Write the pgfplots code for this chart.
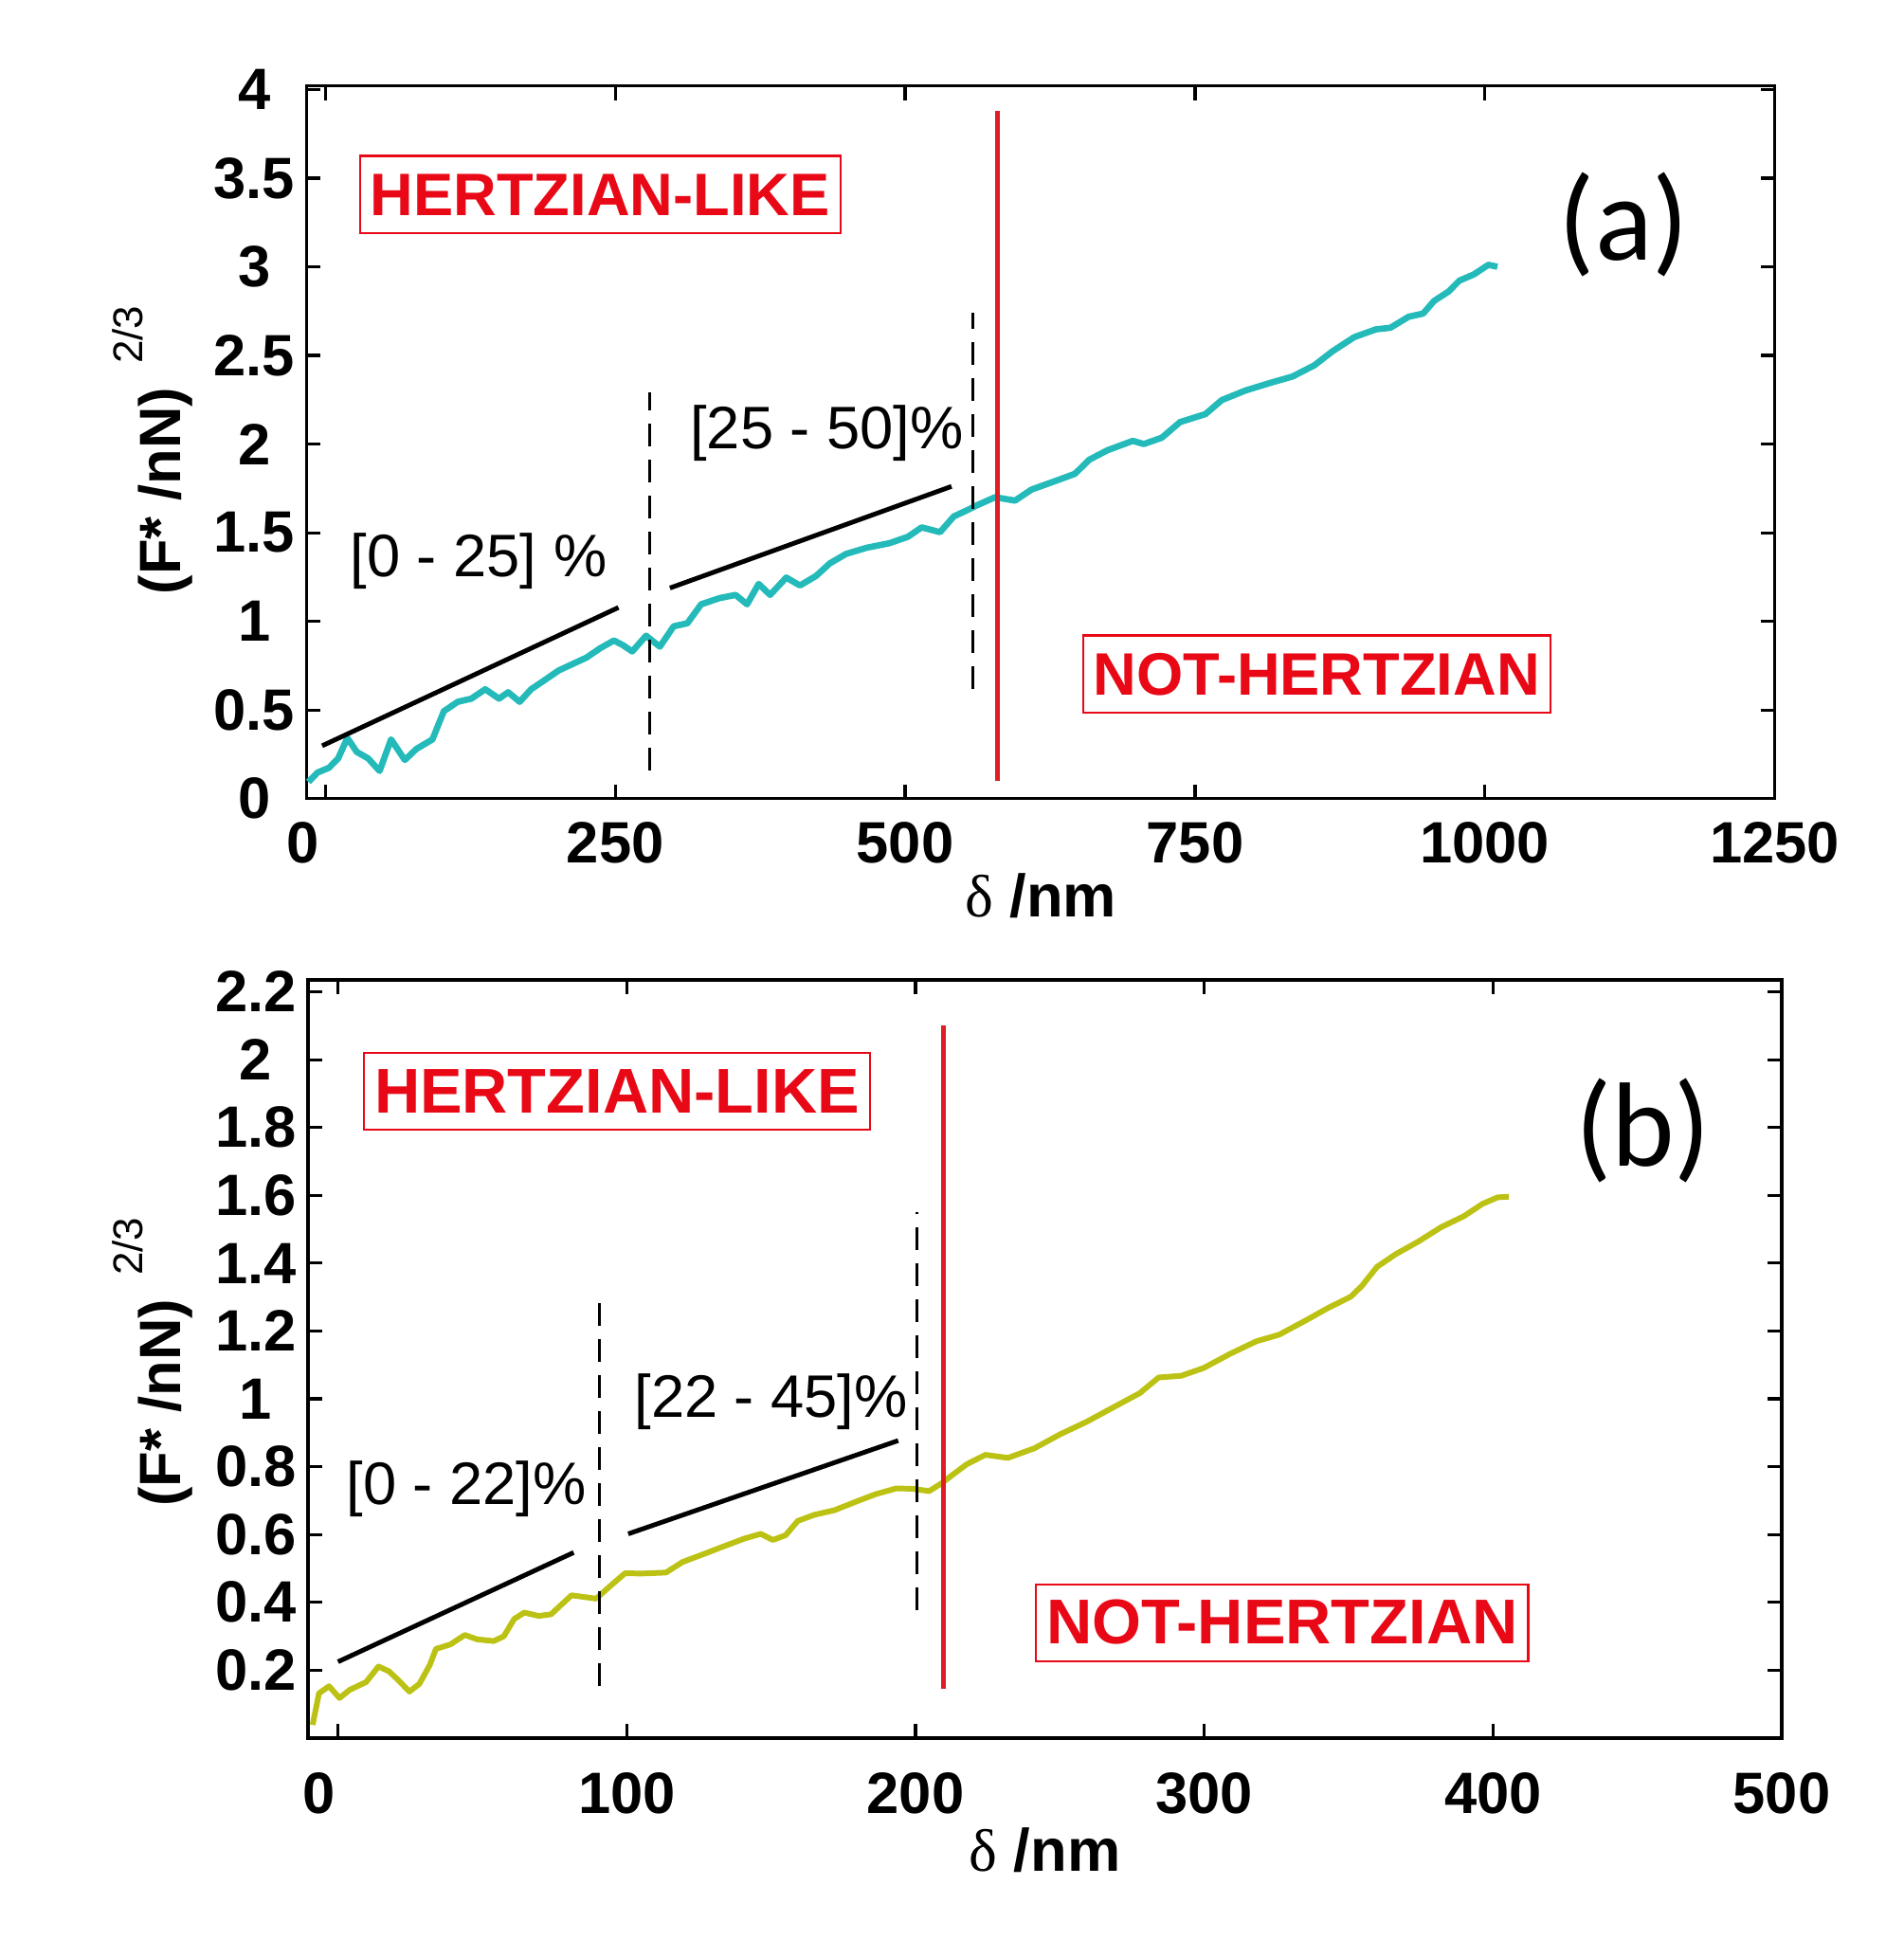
\documentclass[border=0pt]{standalone}
\usepackage{fontspec}
\setmainfont{Liberation Sans}
\newfontfamily\calibri{Carlito}
\newfontfamily\greekfont{Liberation Serif}
\usepackage{pgfplots}
\pgfplotsset{compat=1.18}
\definecolor{curveA}{RGB}{36,186,186}
\definecolor{curveB}{RGB}{188,194,20}
\definecolor{hred}{RGB}{232,8,22}
\definecolor{vred}{RGB}{222,30,36}
\newcommand{\shiftzero}[1]{\kern-#1\makebox[0pt]{0}\kern#1}
\tikzset{
  redbox/.style={draw=hred, line width=0.6pt, text=hred, font=\fontsize{18}{18}\selectfont\bfseries, inner xsep=1.1mm, inner ysep=1.8mm, text height=12.9pt, text depth=0pt},
  pct/.style={font=\fontsize{18}{18}\selectfont, text=black},
}
\pgfplotsset{
  common/.style={
    scale only axis,
    anchor=south west,
    axis line style={line width=1pt},
    tick align=inside,
    xtick pos=both, ytick pos=both,
    major tick length=1.5mm,
    every tick/.style={black, line width=0.9pt},
    scaled ticks=false,
    /pgf/number format/1000 sep={},
    /pgf/number format/assume math mode=true,
    ticklabel style={font=\fontsize{17.5}{17.5}\selectfont\bfseries, inner sep=0pt},
    xticklabel style={anchor=north},
    yticklabel style={anchor=center, xshift=-5.5mm},
    xlabel={{\greekfont δ} \textbf{/nm}},
    xlabel style={font=\fontsize{18}{18}\selectfont, anchor=base},
    ylabel={\textbf{(F* /nN)}\hspace{2.5mm}\raisebox{4mm}{\fontsize{12.5}{12.5}\selectfont 2/3}},
    ylabel style={font=\fontsize{17.5}{17.5}\selectfont, anchor=base},
    clip=false,
  },
}
\begin{document}
\begin{tikzpicture}
\path[use as bounding box] (0,0) rectangle (200.8mm,204.6mm);
% ---------------- (a)
\begin{axis}[common,
  at={(32.33mm,120.33mm)}, width=154.94mm, height=75.2mm,
  xmin=-16.3, xmax=1250, ymin=0, ymax=4.02,
  xtick={0,250,500,750,1000,1250},
  xticklabels={\shiftzero{2.4mm},250,500,750,1000,1250},
  ytick={0,0.5,1,1.5,2,2.5,3,3.5,4},
  yticklabels={0,0.5,1,1.5,2,2.5,3,3.5,4},
  xticklabel style={yshift=-2.4mm},
  xlabel style={at={(axis description cs:0.5,-0.1666)}},
  ylabel style={at={(axis description cs:-0.086,0.489)}},
]
\addplot[curveA, line width=1.9pt, line join=round] coordinates {
(-14.6,0.094) (-6.7,0.147) (3.2,0.174) (11.1,0.227) (19.0,0.342) (27.2,0.263) (36.9,0.227) (46.8,0.156) (56.7,0.334) (68.6,0.218)
(78.5,0.280) (92.4,0.334) (102.2,0.493) (114.2,0.546) (126.0,0.564) (137.9,0.617) (149.8,0.564) (157.7,0.600) (167.6,0.546) (177.5,0.617)
(189.5,0.670) (201.3,0.723) (213.2,0.759) (225.1,0.795) (237.0,0.848) (248.9,0.892) (256.8,0.865) (264.7,0.830) (276.6,0.919) (288.5,0.857)
(300.4,0.972) (312.2,0.989) (324.1,1.096) (340.0,1.131) (353.8,1.149) (363.7,1.096) (373.7,1.211) (383.6,1.149) (397.5,1.247) (409.3,1.202)
(423.2,1.256) (435.1,1.327) (449.0,1.380) (466.8,1.415) (486.6,1.441) (502.4,1.477) (514.3,1.530) (530.1,1.503) (542.0,1.592) (553.9,1.628)
(561.8,1.654) (577.6,1.700) (594.8,1.681) (608.9,1.743) (627.6,1.787) (646.4,1.832) (658.9,1.912) (674.5,1.965) (696.4,2.018) (705.8,2.000)
(721.4,2.036) (737.1,2.124) (759.0,2.169) (773.1,2.248) (793.5,2.302) (815.4,2.346) (834.1,2.381) (852.9,2.444) (868.5,2.523) (887.3,2.603)
(906.0,2.647) (918.5,2.656) (934.2,2.718) (946.7,2.736) (956.1,2.807) (968.6,2.860) (978.0,2.922) (990.5,2.957) (1003.0,3.011) (1010.8,3.000)};
\addplot[black, line width=1.4pt] coordinates {(-2.7,0.298) (252.8,1.078)};
\addplot[black, line width=1.4pt] coordinates {(297.2,1.188) (540,1.761)};
\addplot[black, line width=0.85pt, dash pattern=on 2.4mm off 1.4mm] coordinates {(279.7,0.16) (279.7,2.29)};
\addplot[black, line width=0.85pt, dash pattern=on 2.4mm off 1.4mm] coordinates {(558.6,0.62) (558.6,2.74)};
\addplot[vred, line width=1.2pt] coordinates {(579.6,0.10) (579.6,3.88)};
\node[redbox] at (axis cs:237,3.408) {HERTZIAN-LIKE};
\node[redbox] at (axis cs:855,0.703) {NOT-HERTZIAN};
\node[pct] at (axis cs:132.2,1.339) {[0 - 25] \%};
\node[pct] at (axis cs:432.5,2.06) {[25 - 50]\%};
\node[font=\calibri\fontsize{36}{36}\selectfont] at (axis cs:1120,3.24) {(a)};
\end{axis}
% ---------------- (b)
\begin{axis}[common,
  at={(32.5mm,21.2mm)}, width=155.5mm, height=80mm,
  xmin=-10.4, xmax=500, ymin=0, ymax=2.235,
  xtick={0,100,200,300,400,500},
  xticklabels={\shiftzero{2mm},100,200,300,400,500},
  ytick={0.2,0.4,0.6,0.8,1,1.2,1.4,1.6,1.8,2,2.2},
  yticklabels={0.2,0.4,0.6,0.8,1,1.2,1.4,1.6,1.8,2,2.2},
  xticklabel style={yshift=-3.6mm},
  xlabel style={at={(axis description cs:0.5,-0.176)}},
  ylabel style={at={(axis description cs:-0.0868,0.496)}},
]
\addplot[curveB, line width=1.7pt, line join=round] coordinates {
(-8.8,0.039) (-6.6,0.132) (-3.1,0.153) (0.5,0.118) (4.0,0.142) (9.7,0.165) (14.0,0.211) (17.6,0.197) (21.1,0.169) (24.7,0.137)
(28.2,0.160) (31.8,0.216) (33.9,0.263) (38.9,0.276) (43.9,0.304) (48.2,0.291) (53.9,0.286) (57.4,0.300) (61.0,0.351) (64.5,0.370)
(69.5,0.360) (73.8,0.365) (77.3,0.393) (80.9,0.421) (85.1,0.416) (89.4,0.411) (93.7,0.444) (99.4,0.486) (105.1,0.485) (113.6,0.488)
(119.3,0.519) (126.5,0.542) (133.5,0.565) (140.7,0.588) (146.4,0.602) (150.6,0.584) (155,0.598) (159.2,0.640) (164.9,0.658) (172.0,0.672)
(179.1,0.696) (186.2,0.719) (193.3,0.736) (199,0.735) (204.7,0.728) (209.0,0.751) (213.3,0.779) (217.7,0.807) (224.2,0.835) (232.0,0.826)
(241.1,0.854) (250.2,0.896) (259.4,0.933) (268.5,0.975) (277.7,1.017) (284.2,1.063) (292.0,1.068) (299.8,1.091) (309.0,1.133) (318.1,1.170)
(325.9,1.189) (335.1,1.231) (342.9,1.268) (350.7,1.301) (354.6,1.333) (359.8,1.389) (366.4,1.427) (374.2,1.464) (382.0,1.506) (389.8,1.538)
(396.4,1.575) (401.6,1.594) (405.5,1.596)};
\addplot[black, line width=1.4pt] coordinates {(0,0.225) (81.6,0.547)};
\addplot[black, line width=1.4pt] coordinates {(100.5,0.602) (194,0.877)};
\addplot[black, line width=0.85pt, dash pattern=on 2.4mm off 1.4mm] coordinates {(90.4,0.155) (90.4,1.32)};
\addplot[black, line width=0.85pt, dash pattern=on 2.4mm off 1.4mm] coordinates {(200.4,0.376) (200.4,1.55)};
\addplot[vred, line width=1.2pt] coordinates {(209.7,0.146) (209.7,2.10)};
\node[redbox, font=\fontsize{19}{19}\selectfont\bfseries] at (axis cs:96.6,1.906) {HERTZIAN-LIKE};
\node[redbox, font=\fontsize{19}{19}\selectfont\bfseries] at (axis cs:327,0.34) {NOT-HERTZIAN};
\node[pct] at (axis cs:44.5,0.735) {[0 - 22]\%};
\node[pct] at (axis cs:150,0.99) {[22 - 45]\%};
\node[font=\calibri\fontsize{36}{36}\selectfont] at (axis cs:452,1.79) {(b)};
\end{axis}
\end{tikzpicture}
\end{document}
